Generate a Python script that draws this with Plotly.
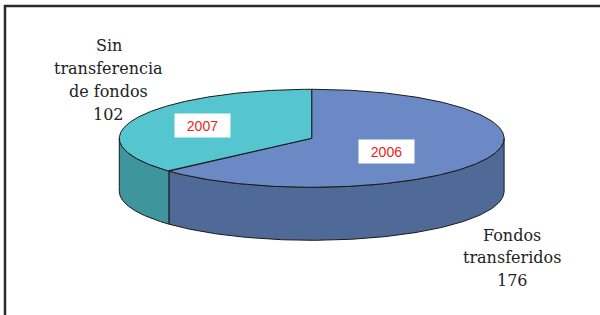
import numpy as np
import plotly.graph_objects as go

# ---- data ----
categories = ["Fondos transferidos", "Sin transferencia de fondos"]
values = [176, 102]
years = ["2006", "2007"]
category_lines = [["Fondos", "transferidos"], ["Sin", "transferencia", "de fondos"]]

# ---- styling / geometry (pixel space) ----
top_colors = ["#6B8AC5", "#55C5D0"]
side_colors = ["#506A98", "#3F959C"]
CX, CY, RX, RY, DEPTH = 311.7, 138.3, 192.4, 49.0, 53.0
year_pos = [(386.5, 151.5), (202.5, 125.0)]
label_pos = [(512, 235, 22.5), (108.5, 45.5, 23)]  # x center, first line y, spacing

def pt(t, dy=0.0):
    return CX + RX * np.sin(t), CY - RY * np.cos(t) + dy

fig = go.Figure()

total = sum(values)
bounds = np.concatenate([[0], np.cumsum(values) / total * 2 * np.pi])

# side walls (front visible half: angle pi/2 .. 3pi/2)
for i in range(len(values)):
    a = max(bounds[i], np.pi / 2)
    b = min(bounds[i + 1], 3 * np.pi / 2)
    if b <= a:
        continue
    t = np.linspace(a, b, 200)
    xt, yt = pt(t)
    xb, yb = pt(t[::-1], DEPTH)
    xs = np.concatenate([xt, xb, xt[:1]])
    ys = np.concatenate([yt, yb, yt[:1]])
    fig.add_trace(go.Scatter(x=xs, y=ys, mode="lines", fill="toself",
                             fillcolor=side_colors[i],
                             line=dict(color="#1a1a1a", width=1),
                             hoverinfo="skip", showlegend=False))

# top faces
for i in range(len(values)):
    t = np.linspace(bounds[i], bounds[i + 1], 300)
    xa, ya = pt(t)
    xs = np.concatenate([[CX], xa, [CX]])
    ys = np.concatenate([[CY], ya, [CY]])
    fig.add_trace(go.Scatter(x=xs, y=ys, mode="lines", fill="toself",
                             fillcolor=top_colors[i],
                             line=dict(color="#1a1a1a", width=1),
                             hoverinfo="skip", showlegend=False))

annotations = []
for i in range(len(values)):
    x, y = year_pos[i]
    annotations.append(dict(x=x, y=y, xref="x", yref="y", text=years[i],
                            showarrow=False, bgcolor="white", width=55, height=23,
                            borderpad=0,
                            font=dict(family="Liberation Sans, Arial", size=14, color="#ED1C24")))
    lx, ly, sp = label_pos[i]
    lines = category_lines[i] + [str(values[i])]
    for k, line in enumerate(lines):
        annotations.append(dict(x=lx, y=ly + k * sp, xref="x", yref="y", text=line,
                                showarrow=False,
                                font=dict(family="'DejaVu Serif', 'Liberation Serif', serif",
                                          size=16, color="#222222")))

fig.update_layout(
    width=600, height=315,
    margin=dict(l=0, r=0, t=0, b=0),
    paper_bgcolor="white", plot_bgcolor="white",
    xaxis=dict(range=[0, 600], visible=False, fixedrange=True),
    yaxis=dict(range=[315, 0], visible=False, fixedrange=True),
    annotations=annotations,
    shapes=[dict(type="rect", xref="x", yref="y", x0=5, y0=6, x1=640, y1=360,
                 line=dict(color="#2a2a2a", width=2.5))],
)

fig.write_html("out.html", config={"displayModeBar": False, "staticPlot": True},
               post_script="document.body.style.margin='0';document.body.style.overflow='hidden';")
